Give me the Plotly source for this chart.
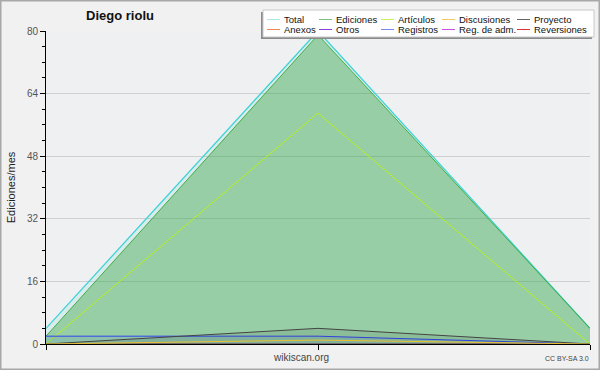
import plotly.graph_objects as go

# ---- data ----
months = ["m1", "m2", "m3"]
series_names = ["Total", "Ediciones", "Artículos", "Discusiones", "Proyecto",
                "Anexos", "Otros", "Registros", "Reg. de adm.", "Reversiones"]
total = [4, 80, 4]
ediciones = [2, 79, 4]
articulos = [0, 59, 0]
discusiones = [0, 1, 0]
proyecto = [0, 4, 0]
anexos = [0, 0, 0]
otros = [0, 0, 0]
registros = [2, 2, 0]
reg_adm = [0, 0, 0]
reversiones = [0, 0, 0]
y_ticks = [0, 16, 32, 48, 64, 80]

values = {
    "Total": total, "Ediciones": ediciones, "Artículos": articulos,
    "Discusiones": discusiones, "Proyecto": proyecto, "Anexos": anexos,
    "Otros": otros, "Registros": registros, "Reg. de adm.": reg_adm,
    "Reversiones": reversiones,
}

# ---- styles ----
line_col = {
    "Total": "#3fd3d3", "Ediciones": "#3fae45", "Artículos": "#b4f01e",
    "Discusiones": "#e8c030", "Proyecto": "#444444", "Anexos": "#ee8844",
    "Otros": "#8844dd", "Registros": "#3344ee", "Reg. de adm.": "#cc44dd",
    "Reversiones": "#dd3333",
}
legend_col = {
    "Total": "#aee8e8", "Ediciones": "#77c27c", "Artículos": "#c8f060",
    "Discusiones": "#f0cc60", "Proyecto": "#666666", "Anexos": "#f08850",
    "Otros": "#8844dd", "Registros": "#7788ee", "Reg. de adm.": "#cc55dd",
    "Reversiones": "#dd3333",
}
fill_col = {
    "Total": "rgba(64,208,208,0.12)", "Ediciones": "rgba(60,168,66,0.42)",
    "Proyecto": "rgba(40,40,40,0.10)", "Registros": "rgba(50,70,230,0.10)",
}
draw_order = ["Anexos", "Otros", "Reg. de adm.", "Reversiones", "Total",
              "Ediciones", "Artículos", "Registros", "Proyecto", "Discusiones"]

W, H = 600, 370
ML, MR, MT, MB = 46, 10, 31, 26
PW, PH = W - ML - MR, H - MT - MB
FONT = "Liberation Sans, Arial, sans-serif"


def px(x):
    return (x - ML) / PW


def py(y):
    return (H - MB - y) / PH


fig = go.Figure()
for name in draw_order:
    fc = fill_col.get(name)
    fig.add_trace(go.Scatter(
        x=list(range(len(months))), y=values[name], name=name, mode="lines",
        line=dict(color=line_col[name], width=1.3 if name == "Total" else 1),
        fill="tozeroy" if fc else None, fillcolor=fc, showlegend=False,
        hoverinfo="x+y+name",
    ))

shapes = []
annotations = []

# outer border
shapes.append(dict(type="rect", xref="paper", yref="paper",
                   x0=px(0.5), x1=px(W - 0.5), y0=py(H - 0.5), y1=py(0.5),
                   line=dict(color="#a8a8a8", width=2), fillcolor="rgba(0,0,0,0)",
                   layer="above"))

# legend box (shadow + box)
shapes.append(dict(type="rect", xref="paper", yref="paper",
                   x0=px(261), x1=px(592), y0=py(39), y1=py(12),
                   line=dict(width=0), fillcolor="#8a8a8a", layer="above"))
shapes.append(dict(type="rect", xref="paper", yref="paper",
                   x0=px(263), x1=px(594), y0=py(37), y1=py(10),
                   line=dict(color="#c8c8c8", width=1), fillcolor="#ffffff",
                   layer="above"))

col_x = [267, 319, 381, 442, 517]
row_y = [19.5, 29.5]
for i, name in enumerate(series_names):
    cx = col_x[i % 5]
    ry = row_y[i // 5]
    shapes.append(dict(type="line", xref="paper", yref="paper",
                       x0=px(cx), x1=px(cx + 13), y0=py(ry), y1=py(ry),
                       line=dict(color=legend_col[name], width=1), layer="above"))
    annotations.append(dict(text=name, xref="paper", yref="paper",
                            x=px(cx + 15), y=py(ry), xanchor="left", yanchor="middle",
                            showarrow=False, font=dict(family=FONT, size=9.5, color="#111111")))

annotations.append(dict(text="wikiscan.org", xref="paper", yref="paper",
                        x=px(301), y=py(357), xanchor="center", yanchor="middle",
                        showarrow=False, font=dict(family=FONT, size=10, color="#444444")))
annotations.append(dict(text="CC BY-SA 3.0", xref="paper", yref="paper",
                        x=px(591), y=py(358), xanchor="right", yanchor="middle",
                        showarrow=False, font=dict(family=FONT, size=7, color="#444444")))

fig.update_layout(
    width=W, height=H,
    margin=dict(l=ML, r=MR, t=MT, b=MB, pad=0, autoexpand=False),
    paper_bgcolor="#f1f1f1", plot_bgcolor="#eff0f2",
    title=dict(text="<b>Diego riolu</b>", x=120 / W, xref="container", xanchor="center",
               y=1 - 15 / H, yref="container", yanchor="middle",
               font=dict(family=FONT, size=13, color="#111111")),
    font=dict(family=FONT),
    shapes=shapes, annotations=annotations,
    showlegend=False,
)
fig.update_xaxes(range=[0, len(months) - 1], tickvals=list(range(len(months))),
                 showticklabels=False, ticks="outside", ticklen=5, tickcolor="#000",
                 showline=True, linecolor="#000", linewidth=1, showgrid=False,
                 zeroline=False, fixedrange=True)
fig.update_yaxes(range=[0, 80], tickvals=y_ticks, ticks="outside", ticklen=5,
                 tickcolor="#000", showline=True, linecolor="#000", linewidth=1,
                 showgrid=True, gridcolor="#cfcfcf", gridwidth=1, zeroline=False,
                 tickfont=dict(family=FONT, size=10, color="#555555"),
                 minor=dict(dtick=4, ticks="outside", ticklen=3, tickcolor="#000",
                            showgrid=False),
                 title=dict(text="Ediciones/mes", standoff=9,
                            font=dict(family=FONT, size=11, color="#222222")),
                 automargin=False, fixedrange=True)

fig.write_html("out.html", config={"displayModeBar": False},
               post_script="document.body.style.margin='0';"
                           "document.body.style.overflow='hidden';")
